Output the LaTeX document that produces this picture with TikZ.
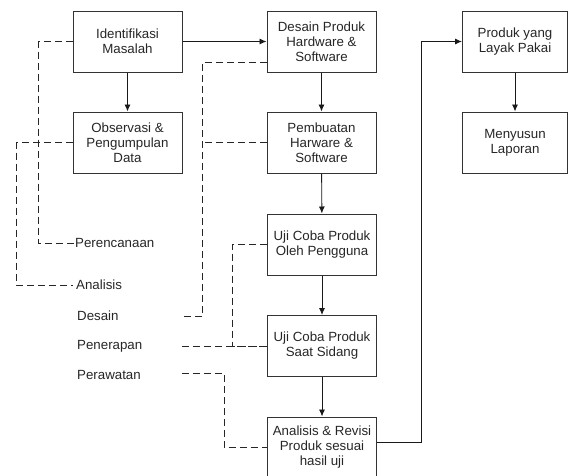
\documentclass[tikz,border=0pt]{standalone}
\usepackage{fontspec}
\setmainfont{Liberation Sans}
\usetikzlibrary{arrows.meta}

\begin{document}
\begin{tikzpicture}[x=1pt, y=-1pt,
  box/.style={draw=black!80, line width=1pt, minimum width=109pt, minimum height=61pt, align=center, inner sep=2pt, font=\fontsize{13.3}{15}\selectfont, text=black!85},
  lbl/.style={anchor=west, inner sep=0pt, font=\fontsize{13.3}{15}\selectfont, text=black!85},
  flow/.style={draw=black!90, line width=0.9pt, -{Latex[length=7pt,width=6pt]}},
  link/.style={draw=black!85, line width=0.9pt, dash pattern=on 7pt off 4pt}]

\clip (0,0) rectangle (568,475);

% Boxes
\node [box] (idm) at (127.5,41.5) {Identifikasi\\Masalah};
\node [box] (obs) at (127.5,142.5) {Observasi \&\\Pengumpulan\\Data};
\node [box] (des) at (321.5,41.5) {Desain Produk\\Hardware \&\\Software};
\node [box] (pem) at (321.5,142.5) {Pembuatan\\Harware \&\\Software};
\node [box] (ujp) at (322,244.5) {Uji Coba Produk\\Oleh Pengguna};
\node [box] (ujs) at (322,346) {Uji Coba Produk\\Saat Sidang};
\node [box] (anr) at (322,447.5) {Analisis \& Revisi\\Produk sesuai\\hasil uji};
\node [box, minimum width=105pt] (pyl) at (515,41.5) {Produk yang\\Layak Pakai};
\node [box, minimum width=105pt] (mly) at (515,142.5) {Menyusun\\Laporan};

% Stages
\node [lbl] (lper) at (75,243) {Perencanaan};
\node [lbl] (lana) at (76,285) {Analisis};
\node [lbl] (ldes) at (77,316) {Desain};
\node [lbl] (lpen) at (77,346) {Penerapan};
\node [lbl] (lpwt) at (77,375) {Perawatan};
\coordinate (ddes) at (182,316);
\coordinate (dpen) at (182,346);
\coordinate (dpwt) at (182,373);

% Flow
\draw [flow] (idm) -- (des);
\draw [flow] (idm) -- (obs);
\draw [flow] (des) -- (pem);
\draw [flow] (pem) -- (ujp);
\draw [flow] (ujp) -- (ujs);
\draw [flow] (ujs) -- (anr);
\draw [flow] (pyl) -- (mly);
\draw [flow] ([yshift=5.5pt]anr.east) -- ++(44,0) |- (pyl.west);

% Stage links
\draw [link] (idm.west) -- ++(-34,0) |- (lper.west);
\draw [link] (obs.west) -- ++(-56,0) |- ([xshift=-3pt]lana.west);
\draw [link] ([yshift=-20.5pt]des.west) -- ++(-64,0) |- (ddes);
\draw [link] (pem.west) -- ++(-64,0);
\draw [link] (ujp.west) -- ++(-35,0) |- (ujs.west);
\draw [link] (dpen) -- (ujs.west);
\draw [link] (dpwt) -- ++(42,0) |- (anr.west);

\end{tikzpicture}
\end{document}
